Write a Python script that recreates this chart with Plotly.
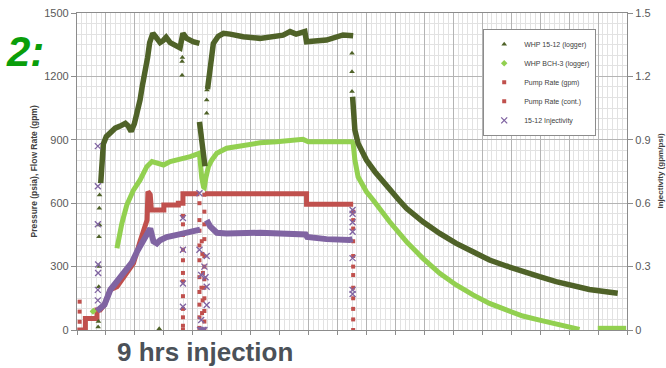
import plotly.graph_objects as go

# ---------------- data (x in hours from start, pressures in psia, rates in gpm) ----------------
# WHP 15-12 (logger) continuous record
whp1512_t = [0.82, 0.86, 0.91, 1.01, 1.15, 1.32, 1.49, 1.67, 1.77, 1.87, 1.98, 2.08, 2.18, 2.25, 2.36, 2.44,
             2.51, 2.62, 2.73, 2.87, 2.98, 3.08, 3.22, 3.42, 3.56, 3.66, 3.79, 4.01, 4.23, None,
             4.23, 4.29, 4.36, 4.42, None,
             4.51, 4.54, 4.60, 4.71, 4.88, 5.06, 5.29, 5.74, 6.32, 6.67, 6.90, 7.12, 7.36, 7.57, 7.87,
             7.93, 8.22, 8.62, 9.19, 9.54, None,
             9.52, 9.54, 9.60, 9.71, 10.00, 10.29, 10.46, 10.80, 11.09, 11.38, 11.95, 12.53, 13.10,
             13.68, 14.25, 14.83, 15.40, 15.98, 16.55, 17.12, 17.70, 18.28, 18.68]
whp1512_p = [695, 800, 880, 915, 935, 955, 965, 978, 965, 940, 975, 1025, 1090, 1150, 1215, 1290,
             1360, 1404, 1385, 1360, 1370, 1385, 1360, 1345, 1335, 1404, 1380, 1364, 1356, None,
             985, 930, 850, 775, None,
             1140, 1180, 1270, 1356, 1390, 1404, 1400, 1388, 1380, 1384, 1390, 1395, 1412, 1400, 1412,
             1364, 1368, 1372, 1396, 1392, None,
             1104, 1025, 946, 883, 804, 749, 720, 660, 620, 576, 512, 457, 410,
             370, 331, 303, 276, 252, 229, 208, 192, 181, 174]
# WHP 15-12 isolated readings
whp1512_pts_t = [0.73, 0.74, 0.75, 0.77, 0.76, 0.78, 0.77, 0.78, 2.84, 3.63, 3.63, 3.64,
                 4.48, 4.48, 4.49, 9.50, 9.50, 9.50]
whp1512_pts_p = [14, 40, 205, 300, 441, 497, 576, 639, 6, 1206, 1270, 1290,
                 1026, 1088, 1136, 1128, 1222, 1309]

# WHP BCH-3 (logger)
bch3_t = [1.38, 1.55, 1.72, 1.95, 2.18, 2.41, 2.59, 2.76, 2.99, 3.22, 3.56, 3.91, 4.23, 4.25, 4.31,
          4.37, 4.40, 4.45, 4.54, 4.66, 4.83, 5.17, 5.74, 6.32, 6.90, 7.47, 7.81, 7.99, 8.62, 9.42,
          9.50, 9.54, 9.60, 9.71, 10.00, 10.23, 10.80, 11.38, 11.95, 12.53, 13.10, 13.68, 14.25,
          14.83, 15.40, 15.98, 16.55, 17.12, 17.36, None, 17.99, 18.97]
bch3_p = [387, 505, 591, 662, 710, 773, 797, 789, 781, 797, 808, 820, 836, 780, 720,
          678, 675, 720, 773, 805, 836, 860, 875, 886, 891, 899, 902, 891, 891, 896,
          891, 883, 804, 725, 654, 615, 512, 418, 339, 268, 213, 166, 126,
          95, 66, 47, 28, 13, 3, None, 8, 8]
bch3_pts_t = [0.55, 0.57]
bch3_pts_p = [87, 90]

# Pump Rate (gpm)
pump_t = [0.01, 0.29, 0.29, 0.69, 0.69, 0.80, 0.95, 1.15, 1.38, 1.67, 1.95, 2.18, 2.32, 2.42, 2.45,
          2.53, 2.57, 3.00, 3.00, 3.50, 3.50, 3.66, 3.66, 4.23]
pump_q = [0, 0, 55, 55, 95, 95, 120, 190, 205, 260, 315, 420, 480, 520, 655,
          640, 568, 568, 591, 591, 600, 600, 645, 645]
pump_pts_t = [0.09, 0.09, 0.09,
              3.66, 3.66, 3.66, 3.66, 3.66, 3.66, 3.66, 3.66, 3.66, 3.66, 3.66, 3.66,
              4.23, 4.23, 4.23, 4.23, 4.23, 4.23, 4.23, 4.23, 4.23, 4.23,
              4.31, 4.33, 4.35, 4.30, 4.34, 4.32]
pump_pts_q = [134, 87, 39,
              540, 500, 450, 380, 330, 270, 230, 160, 100, 60, 20, 0,
              600, 520, 470, 400, 330, 250, 180, 120, 60, 10,
              420, 360, 270, 200, 140, 80]

# Pump Rate (cont.)
pumpc_t = [4.42, 7.93, 7.93, 9.54]
pumpc_q = [645, 645, 595, 595]
pumpc_pts_t = [4.40, 4.40, 4.40, 4.40, 4.40, 4.40, 4.40, 4.40, 4.40, 4.40, 4.40, 4.40,
               9.54, 9.54, 9.54, 9.54, 9.54, 9.54, 9.54, 9.54, 9.54, 9.54, 9.54, 9.54]
pumpc_pts_q = [640, 560, 500, 430, 350, 300, 240, 200, 150, 90, 40, 0,
               560, 520, 480, 420, 350, 300, 260, 200, 150, 100, 50, 0]

# 15-12 Injectivity (gpm/psi)
inj_t = [0.69, 0.80, 0.95, 1.15, 1.32, 1.55, 1.72, 1.90, 2.07, 2.24, 2.41, 2.53, 2.64, 2.76, 2.87,
         3.10, 3.45, 3.68, 4.02, 4.25, None, 4.48, 4.60, 4.83, 5.17, 6.32, 7.47, 7.90, 7.95, 8.62,
         9.42, 9.52]
inj_v = [0.09, 0.10, 0.12, 0.19, 0.22, 0.26, 0.285, 0.32, 0.37, 0.41, 0.455, 0.48, 0.42, 0.41, 0.425,
         0.44, 0.45, 0.457, 0.473, 0.475, None, 0.52, 0.49, 0.46, 0.457, 0.46, 0.455, 0.452, 0.44, 0.43,
         0.426, 0.43]
inj_pts_t = [0.72, 0.72, 0.72, 0.73, 0.73, 0.72, 0.72,
             3.66, 3.66, 3.66, 3.66,
             4.23, 4.23, 4.29, 4.29, 4.25, 4.30, 4.35, 4.40, 4.48, 4.48, 4.48, 4.40, 4.44,
             9.52, 9.52, 9.52, 9.52, 9.52, 9.52, 9.52]
inj_pts_v = [0.87, 0.68, 0.50, 0.31, 0.27, 0.19, 0.14,
             0.53, 0.38, 0.22, 0.11,
             0.647, 0.38, 0.26, 0.047, 0.0, 0.0, 0.0, 0.0, 0.35, 0.205, 0.118, 0.30, 0.25,
             0.568, 0.55, 0.51, 0.465, 0.34, 0.19, 0.17]

left_ticks = [0, 300, 600, 900, 1200, 1500]
right_ticks = [0, 0.3, 0.6, 0.9, 1.2, 1.5]
right_labels = ["0", "0.3", "0.6", "0.9", "1.2", "1.5"]

# ---------------- styling ----------------
C_DG = "#4F6228"
C_LG = "#92D050"
C_RED = "#C0504D"
C_PUR = "#8064A2"
FONT = "Liberation Sans, Arial, sans-serif"

fig = go.Figure()

def line(x, y, color, width, yaxis="y", group=None):
    fig.add_trace(go.Scatter(x=x, y=y, mode="lines", yaxis=yaxis, showlegend=False,
                             legendgroup=group, hoverinfo="skip",
                             line=dict(color=color, width=width), connectgaps=False))

def pts(x, y, name, color, symbol, size, yaxis="y", group=None, line_w=0):
    m = dict(color=color, symbol=symbol, size=size)
    if line_w:
        m["line"] = dict(color=color, width=line_w)
    fig.add_trace(go.Scatter(x=x, y=y, mode="markers", yaxis=yaxis, name=name,
                             legendgroup=group, marker=m))

line(bch3_t, bch3_p, C_LG, 5, group="b")
line(whp1512_t, whp1512_p, C_DG, 5.5, group="a")
line(pump_t, pump_q, C_RED, 5, group="c")
line(pumpc_t, pumpc_q, C_RED, 5, group="d")
line(inj_t, inj_v, C_PUR, 6, yaxis="y2", group="e")

pts(whp1512_pts_t, whp1512_pts_p, "WHP 15-12 (logger)", C_DG, "triangle-up", 5, group="a")
pts(bch3_pts_t, bch3_pts_p, "WHP BCH-3 (logger)", C_LG, "diamond", 5, group="b")
pts(pump_pts_t, pump_pts_q, "Pump Rate (gpm)", C_RED, "square", 4, group="c")
pts(pumpc_pts_t, pumpc_pts_q, "Pump Rate (cont.)", C_RED, "square", 4, group="d")
pts(inj_pts_t, inj_pts_v, "15-12 Injectivity", C_PUR, "x-thin", 6, yaxis="y2", group="e", line_w=1.3)

GRID_MAJ = "#b4b4b4"
GRID_MIN = "#e2e2e2"
AX = "#8c8c8c"

fig.update_layout(
    width=666, height=368,
    margin=dict(l=77, r=39, t=13, b=38, autoexpand=False),
    paper_bgcolor="white", plot_bgcolor="white",
    font=dict(family=FONT, size=11, color="#595959"),
    xaxis=dict(range=[0, 19], dtick=1, tick0=0, showticklabels=False,
               ticks="outside", ticklen=4, tickcolor=AX,
               showgrid=True, gridcolor=GRID_MAJ, gridwidth=1,
               minor=dict(dtick=1/6, showgrid=True, gridcolor=GRID_MIN, gridwidth=1),
               showline=True, linecolor=AX, linewidth=1.2, mirror=True, zeroline=False),
    yaxis=dict(range=[0, 1500], tickvals=left_ticks, ticks="outside", ticklen=5, tickcolor=AX,
               showgrid=True, gridcolor=GRID_MAJ, gridwidth=1,
               minor=dict(dtick=50, showgrid=True, gridcolor=GRID_MIN, gridwidth=1),
               showline=True, linecolor=AX, linewidth=1.2, zeroline=False,
               tickfont=dict(size=11, color="#595959")),
    yaxis2=dict(range=[0, 1.5], tickvals=right_ticks, ticktext=right_labels, overlaying="y",
                side="right", ticks="outside", ticklen=5, tickcolor=AX, showgrid=False,
                showline=True, linecolor=AX, linewidth=1.2, zeroline=False,
                tickfont=dict(size=11, color="#595959")),
    legend=dict(x=0.944, y=0.95, xanchor="right", yanchor="top",
                bgcolor="white", bordercolor="#8c8c8c", borderwidth=1,
                font=dict(size=7, color="#404040"), itemwidth=30, tracegroupgap=0,
                itemsizing="trace"),
    annotations=[
        dict(text="<b>Pressure (psia), Flow Rate (gpm)</b>", xref="paper", yref="paper",
             x=-0.08, y=0.5, xanchor="center", yanchor="middle", textangle=-90, showarrow=False,
             font=dict(family=FONT, size=8.5, color="#404040")),
        dict(text="<b>Injectivity (gpm/psi)</b>", xref="paper", yref="paper", x=1.06, y=0.5,
             xanchor="center", yanchor="middle", textangle=-90, showarrow=False,
             font=dict(family=FONT, size=8, color="#404040")),
        dict(text="<b><i>2:</i></b>", xref="paper", yref="paper", x=-0.095, y=0.88,
             xanchor="center", yanchor="middle", showarrow=False,
             font=dict(family=FONT, size=42, color="#0a9e0a")),
        dict(text="<b>9 hrs injection</b>", xref="paper", yref="paper", x=0.232, y=-0.07,
             xanchor="center", yanchor="middle", showarrow=False,
             font=dict(family=FONT, size=26, color="#4b5158")),
    ],
)

fig.write_html("out.html", config={"displayModeBar": False},
               post_script="document.body.style.margin='0';document.body.style.overflow='hidden';")
